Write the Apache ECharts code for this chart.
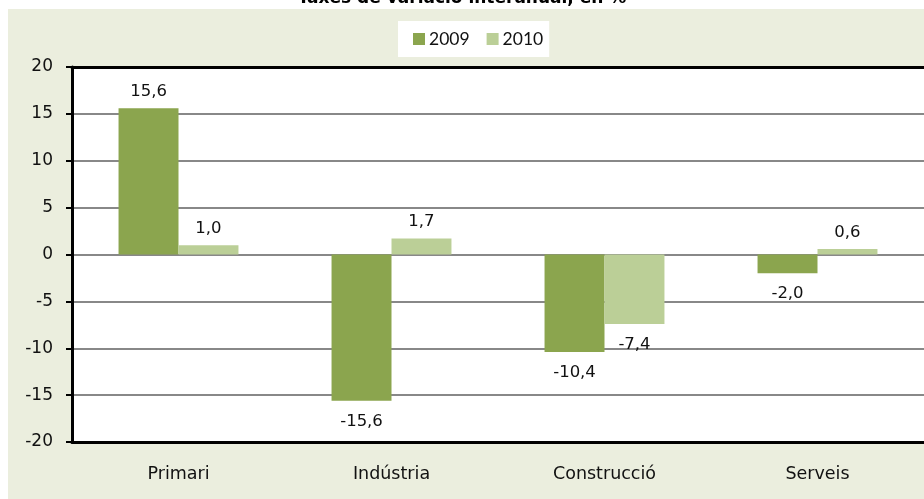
<!DOCTYPE html>
<html>
<head>
<meta charset="utf-8">
<script src="https://cdn.jsdelivr.net/npm/echarts@6/dist/echarts.min.js"></script>
<style>
html, body { margin:0; padding:0; background:#fff; }
#chart { width:924px; height:499px; }
</style>
</head>
<body>
<div id="chart"></div>
<script>
var categories = ['Primari', 'Indústria', 'Construcció', 'Serveis'] ;
var years = ['2009', '2010'] ;
var values2009 = [15.6, -15.6, -10.4, -2.0] ;
var values2010 = [1.0, 1.7, -7.4, 0.6] ;
var colors = ['#8ba54e', '#bbcf97'] ;

var txtFont = '"DejaVu Sans", Verdana, sans-serif' ;

function fmt(v){
	return v.toFixed(1).replace('.', ',') ;
}

// label above for positive, below for negative (like Excel outside end)
function buildData(values){
	var out = [] ;
	for(var i = 0; i < values.length; i++){
		var v = values[i] ;
		out.push({
			value: v,
			label: {position: v >= 0 ? 'top' : 'bottom', distance: v >= 0 ? 8 : 12}
		}) ;
	}
	return out ;
}

var chart = echarts.init(document.getElementById('chart')) ;
var option = {
	backgroundColor: '#fff',
	animation: false,
	graphic: [
		{type: 'rect', z: -10, silent: true, shape: {x: 8, y: 9, width: 930, height: 500}, style: {fill: '#ebeede'}},
		{type: 'text', left: 'center', top: -10, style: {text: 'Taxes de variació interanual, en %', font: 'bold 17px ' + txtFont, fill: '#000'}}
	],
	legend: {
		data: years,
		left: 398, top: 21,
		backgroundColor: '#fff',
		padding: [9, 6, 9, 15],
		itemWidth: 12, itemHeight: 12,
		itemGap: 17,
		icon: 'rect',
		textStyle: {fontFamily: 'Lato, sans-serif', fontSize: 17.5, color: '#111', lineHeight: 18, padding: [0, 0, 0, -1]}
	},
	grid: {
		left: 72, right: 0, top: 67, bottom: 57,
		show: true, backgroundColor: '#fff', borderWidth: 0,
		containLabel: false
	},
	xAxis: [
		{
			type: 'category',
			data: categories,
			axisLine: {onZero: false, lineStyle: {color: '#000', width: 3}},
			axisTick: {show: false},
			axisLabel: {margin: 23, fontFamily: txtFont, fontSize: 17.5, color: '#111'},
			splitLine: {show: false}
		},
		{
			// top frame line of the plot area
			type: 'category', position: 'top',
			data: categories,
			axisLine: {onZero: false, lineStyle: {color: '#000', width: 3}},
			axisTick: {show: false},
			axisLabel: {show: false},
			splitLine: {show: false}
		}
	],
	yAxis: {
		type: 'value',
		min: -20, max: 20, interval: 5,
		axisLine: {show: true, lineStyle: {color: '#000', width: 3}},
		axisTick: {show: true, length: 6, lineStyle: {color: '#000', width: 2}},
		axisLabel: {margin: 19, fontFamily: txtFont, fontSize: 17, color: '#111', padding: [3, 0, 0, 0]},
		splitLine: {lineStyle: {color: '#888', width: 2}}
	},
	series: [
		{
			name: years[0], type: 'bar', data: buildData(values2009),
			itemStyle: {color: colors[0]},
			barGap: '0%', barCategoryGap: '43.7%',
			label: {show: true, fontFamily: txtFont, fontSize: 16.5, color: '#111', formatter: function(p){ return fmt(p.value) ; }}
		},
		{
			name: years[1], type: 'bar', data: buildData(values2010),
			itemStyle: {color: colors[1]},
			barGap: '0%', barCategoryGap: '43.7%',
			label: {show: true, fontFamily: txtFont, fontSize: 16.5, color: '#111', formatter: function(p){ return fmt(p.value) ; }}
		}
	]
} ;
chart.setOption(option) ;
</script>
</body>
</html>
